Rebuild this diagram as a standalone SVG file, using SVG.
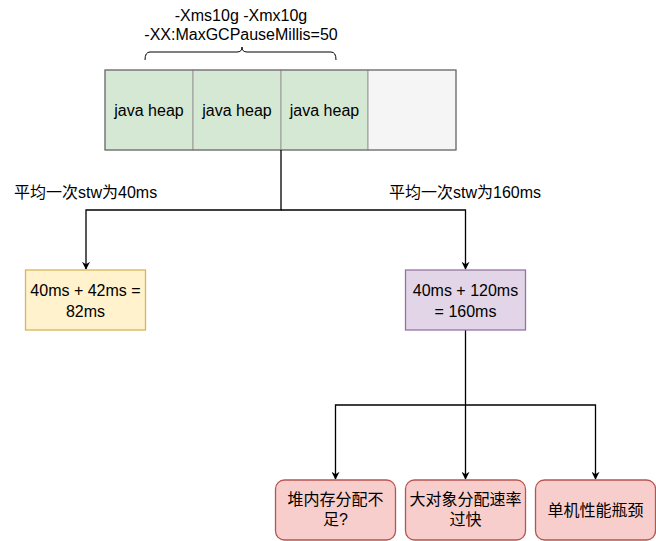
<svg xmlns="http://www.w3.org/2000/svg" width="656" height="541" viewBox="0 0 656 541">
<defs>
<style>
text{font-family:"Liberation Sans",Arial,"Noto Sans CJK SC",sans-serif;font-size:16px;fill:#000;text-anchor:middle}
.lbl{text-anchor:start}
.edge{fill:none;stroke:#000;stroke-width:1.3}
.heap{fill:#d5e8d4;stroke:#999;stroke-width:1}
.red{fill:#f8cecc;stroke:#b85450;stroke-width:1.3}
</style>
<marker id="arr" viewBox="0 0 10 10" refX="9" refY="5" markerWidth="8" markerHeight="8" markerUnits="userSpaceOnUse" orient="auto">
<path d="M0,0 L10,5 L0,10 L3,5 Z" fill="#000"/>
</marker>
</defs>
<rect width="656" height="541" fill="#fff"/>
<g id="params">
<text x="241" y="21">-Xms10g -Xmx10g</text>
<text x="241" y="40">-XX:MaxGCPauseMillis=50</text>
<path d="M145,60 Q145,52 150,52 L237,52 Q242,52 242,47 Q242,52 247,52 L331,52 Q336,52 336,60" fill="none" stroke="#000" stroke-width="1"/>
</g>
<g id="heap">
<rect class="heap" x="105" y="70" width="88" height="80"/>
<rect class="heap" x="193" y="70" width="88" height="80"/>
<rect class="heap" x="281" y="70" width="87" height="80"/>
<rect x="368" y="70" width="88" height="80" fill="#f5f5f5" stroke="#999"/>
<rect x="105" y="70" width="351" height="80" fill="none" stroke="#666"/>
<text x="149" y="116">java heap</text>
<text x="237" y="116">java heap</text>
<text x="324.5" y="116">java heap</text>
</g>
<g id="connectors">
<path class="edge" d="M281,150 V210 H86 V269" marker-end="url(#arr)"/>
<path class="edge" d="M281,210 H465.5 V269" marker-end="url(#arr)"/>
<path class="edge" d="M465.5,330 V405 V479" marker-end="url(#arr)"/>
<path class="edge" d="M465.5,405 H335.5 V479" marker-end="url(#arr)"/>
<path class="edge" d="M465.5,405 H595.5 V479" marker-end="url(#arr)"/>
</g>
<g id="label-left"><text class="lbl" x="14" y="198">平均一次stw为40ms</text></g>
<g id="label-right"><text class="lbl" x="389" y="198">平均一次stw为160ms</text></g>
<g id="yellow">
<rect x="25.5" y="270" width="120" height="60" fill="#fff2cc" stroke="#d6b656" stroke-width="1.3"/>
<text x="85.5" y="296">40ms + 42ms =</text>
<text x="85.5" y="317">82ms</text>
</g>
<g id="purple">
<rect x="405.5" y="270" width="120" height="60" fill="#e1d5e7" stroke="#9673a6" stroke-width="1.3"/>
<text x="465.5" y="296">40ms + 120ms</text>
<text x="465.5" y="317">= 160ms</text>
</g>
<g id="r1">
<rect class="red" x="275.5" y="480" width="120" height="60" rx="9"/>
<text x="335.5" y="505">堆内存分配不</text>
<text x="335.5" y="525">足?</text>
</g>
<g id="r2">
<rect class="red" x="405.5" y="480" width="120" height="60" rx="9"/>
<text x="465.5" y="505">大对象分配速率</text>
<text x="465.5" y="525">过快</text>
</g>
<g id="r3">
<rect class="red" x="535.5" y="480" width="120" height="60" rx="9"/>
<text x="595.5" y="516">单机性能瓶颈</text>
</g>
</svg>
